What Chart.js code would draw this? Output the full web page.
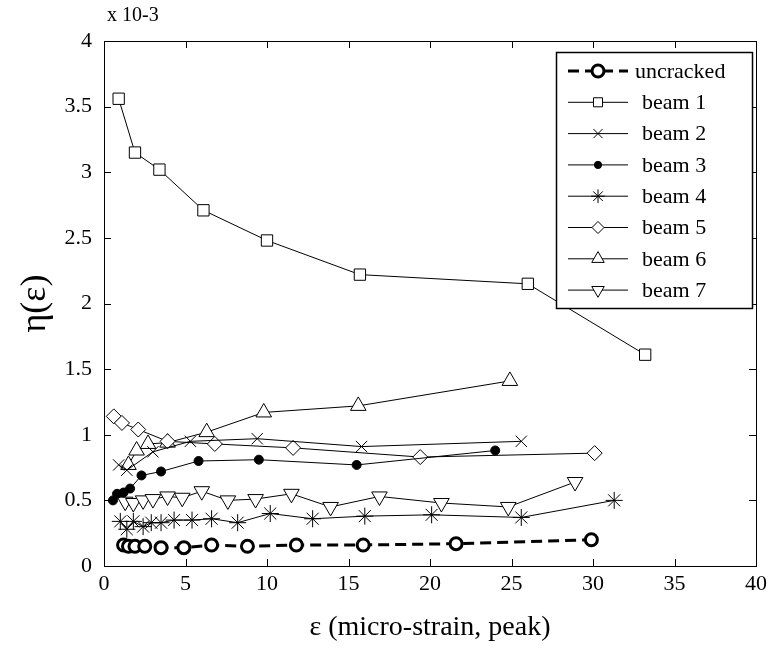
<!DOCTYPE html>
<html>
<head>
<meta charset="utf-8">
<script src="https://cdn.jsdelivr.net/npm/chart.js@4/dist/chart.umd.min.js"></script>
<style>
  html, body { margin: 0; padding: 0; background: #fff; }
  #wrap { width: 772px; height: 649px; }
</style>
</head>
<body>
<div id="wrap"><canvas id="chart"></canvas></div>
<script>
// Data (eta values are x 10^-3)
const uncrackedX = [1.2, 1.5, 1.9, 2.5, 3.5, 4.9, 6.6, 8.8, 11.8, 15.9, 21.6, 29.9];
const uncrackedY = [0.16, 0.15, 0.15, 0.15, 0.14, 0.14, 0.16, 0.15, 0.16, 0.16, 0.17, 0.20];

const beam1X = [0.9, 1.9, 3.4, 6.1, 10.0, 15.7, 26.0, 33.2];
const beam1Y = [3.56, 3.15, 3.02, 2.71, 2.48, 2.22, 2.15, 1.61];

const beam2X = [0.9, 1.4, 3.0, 5.3, 9.4, 15.8, 25.6];
const beam2Y = [0.77, 0.73, 0.87, 0.95, 0.97, 0.91, 0.95];

const beam3X = [0.55, 0.8, 1.2, 1.6, 2.3, 3.5, 5.8, 9.5, 15.5, 24.0];
const beam3Y = [0.50, 0.55, 0.56, 0.59, 0.69, 0.72, 0.80, 0.81, 0.77, 0.88];

const beam4X = [1.0, 1.4, 1.8, 2.4, 2.9, 3.5, 4.3, 5.4, 6.6, 8.2, 10.2, 12.8, 16.0, 20.1, 25.6, 31.3];
const beam4Y = [0.34, 0.28, 0.34, 0.30, 0.33, 0.33, 0.35, 0.35, 0.36, 0.33, 0.40, 0.36, 0.38, 0.39, 0.37, 0.50];

const beam5X = [0.6, 1.1, 2.1, 3.9, 6.8, 11.6, 19.4, 30.1];
const beam5Y = [1.14, 1.09, 1.04, 0.95, 0.93, 0.90, 0.83, 0.86];

const beam6X = [1.5, 2.0, 2.7, 3.9, 6.3, 9.8, 15.6, 24.9];
const beam6Y = [0.77, 0.88, 0.93, 0.94, 1.02, 1.17, 1.22, 1.41];

const beam7X = [1.3, 1.8, 2.4, 3.0, 3.9, 4.8, 6.0, 7.6, 9.3, 11.5, 13.9, 16.9, 20.7, 24.8, 28.9];
const beam7Y = [0.49, 0.48, 0.50, 0.51, 0.53, 0.52, 0.57, 0.50, 0.51, 0.55, 0.45, 0.53, 0.48, 0.45, 0.64];

const xTicks = [0, 5, 10, 15, 20, 25, 30, 35, 40];
const yTicks = [0, 0.5, 1, 1.5, 2, 2.5, 3, 3.5, 4];

const serif = '"Liberation Serif", "Times New Roman", serif';

function pts(xs, ys) {
    return xs.map((x, i) => ({ x: x, y: ys[i] }));
}

function beam(label, xs, ys, style, radius, extra) {
    return Object.assign({
        label: label,
        data: pts(xs, ys),
        showLine: true,
        borderColor: '#000',
        borderWidth: 1,
        pointStyle: style,
        pointRadius: radius,
        pointBorderColor: '#000',
        pointBackgroundColor: '#fff',
        pointBorderWidth: 1,
        tension: 0
    }, extra || {});
}

const datasets = [
    beam('uncracked', uncrackedX, uncrackedY, 'circle', 6, {
        borderWidth: 3, borderDash: [11, 6], pointBorderWidth: 3
    }),
    beam('beam 1', beam1X, beam1Y, 'rect', 8),
    beam('beam 2', beam2X, beam2Y, 'crossRot', 8),
    beam('beam 3', beam3X, beam3Y, 'circle', 4.5, { pointBackgroundColor: '#000' }),
    beam('beam 4', beam4X, beam4Y, 'star', 8.5),
    beam('beam 5', beam5X, beam5Y, 'rectRot', 7.5),
    beam('beam 6', beam6X, beam6Y, 'triangle', 9),
    beam('beam 7', beam7X, beam7Y, 'triangle', 9, { pointRotation: 180 })
];

// Box, inward ticks, titles and the legend
const framePlugin = {
    id: 'frame',
    afterDraw(chart) {
        const ctx = chart.ctx;
        const a = chart.chartArea;
        const xs = chart.scales.x, ys = chart.scales.y;
        ctx.save();
        ctx.strokeStyle = '#000';
        ctx.lineWidth = 1;
        ctx.strokeRect(Math.round(a.left) + 0.5, Math.round(a.top) + 0.5,
                       Math.round(a.right - a.left), Math.round(a.bottom - a.top));
        ctx.beginPath();
        xTicks.forEach(v => {
            const px = Math.round(xs.getPixelForValue(v)) + 0.5;
            ctx.moveTo(px, a.bottom); ctx.lineTo(px, a.bottom - 7);
            ctx.moveTo(px, a.top); ctx.lineTo(px, a.top + 7);
        });
        yTicks.forEach(v => {
            const py = Math.round(ys.getPixelForValue(v)) + 0.5;
            ctx.moveTo(a.left, py); ctx.lineTo(a.left + 7, py);
            ctx.moveTo(a.right, py); ctx.lineTo(a.right - 7, py);
        });
        ctx.stroke();

        // titles
        ctx.fillStyle = '#000';
        ctx.textAlign = 'left';
        ctx.textBaseline = 'middle';
        ctx.font = '20px ' + serif;
        ctx.fillText('x 10-3', a.left + 3, 16);

        ctx.textAlign = 'center';
        ctx.font = '28px ' + serif;
        ctx.fillText('ε (micro-strain, peak)', (a.left + a.right) / 2, 628);
        ctx.save();
        ctx.translate(36, (a.top + a.bottom) / 2);
        ctx.rotate(-Math.PI / 2);
        ctx.font = '36px ' + serif;
        ctx.fillText('η(ε)', 0, 0);
        ctx.restore();

        // legend
        const lx = 556, ly = 52, lw = 196, lh = 256;
        ctx.fillStyle = '#fff';
        ctx.fillRect(lx, ly, lw, lh);
        ctx.lineWidth = 1.5;
        ctx.strokeRect(lx + 0.5, ly + 0.5, lw, lh);
        chart.data.datasets.forEach((ds, i) => {
            const y = 71 + i * 31.3;
            ctx.save();
            ctx.strokeStyle = '#000';
            ctx.lineWidth = ds.borderWidth;
            ctx.setLineDash(ds.borderDash || []);
            ctx.beginPath();
            ctx.moveTo(568, y); ctx.lineTo(628, y);
            ctx.stroke();
            ctx.setLineDash([]);
            ctx.fillStyle = ds.pointBackgroundColor;
            ctx.strokeStyle = '#000';
            ctx.lineWidth = ds.pointBorderWidth;
            Chart.helpers.drawPoint(ctx, {
                pointStyle: ds.pointStyle,
                rotation: ds.pointRotation || 0,
                radius: ds.pointRadius * (i === 0 ? 1 : 0.8),
                borderWidth: ds.pointBorderWidth
            }, 598, y);
            ctx.restore();
            ctx.fillStyle = '#000';
            ctx.textAlign = 'left';
            ctx.textBaseline = 'middle';
            ctx.font = '22px ' + serif;
            ctx.fillText(ds.label, i === 0 ? 635 : 642, y + 1);
        });
        ctx.restore();
    }
};

new Chart(document.getElementById('chart'), {
    type: 'scatter',
    data: { datasets: datasets },
    plugins: [framePlugin],
    options: {
        responsive: true,
        maintainAspectRatio: false,
        animation: false,
        layout: { padding: { top: 41, right: 12, left: 0, bottom: 0 } },
        plugins: {
            legend: { display: false },
            tooltip: { enabled: false }
        },
        scales: {
            x: {
                type: 'linear',
                min: 0, max: 40,
                afterFit: scale => { scale.height = 83; },
                afterBuildTicks: scale => { scale.ticks = xTicks.map(v => ({ value: v })); },
                grid: { display: false, drawTicks: false },
                border: { display: false },
                ticks: {
                    color: '#000', padding: 5,
                    font: { family: serif, size: 22 },
                    callback: v => String(v)
                }
            },
            y: {
                type: 'linear',
                min: 0, max: 4,
                afterFit: scale => { scale.width = 104; },
                afterBuildTicks: scale => { scale.ticks = yTicks.map(v => ({ value: v })); },
                grid: { display: false, drawTicks: false },
                border: { display: false },
                ticks: {
                    color: '#000', padding: 12,
                    font: { family: serif, size: 22 },
                    callback: v => String(v)
                }
            }
        }
    }
});
</script>
</body>
</html>
